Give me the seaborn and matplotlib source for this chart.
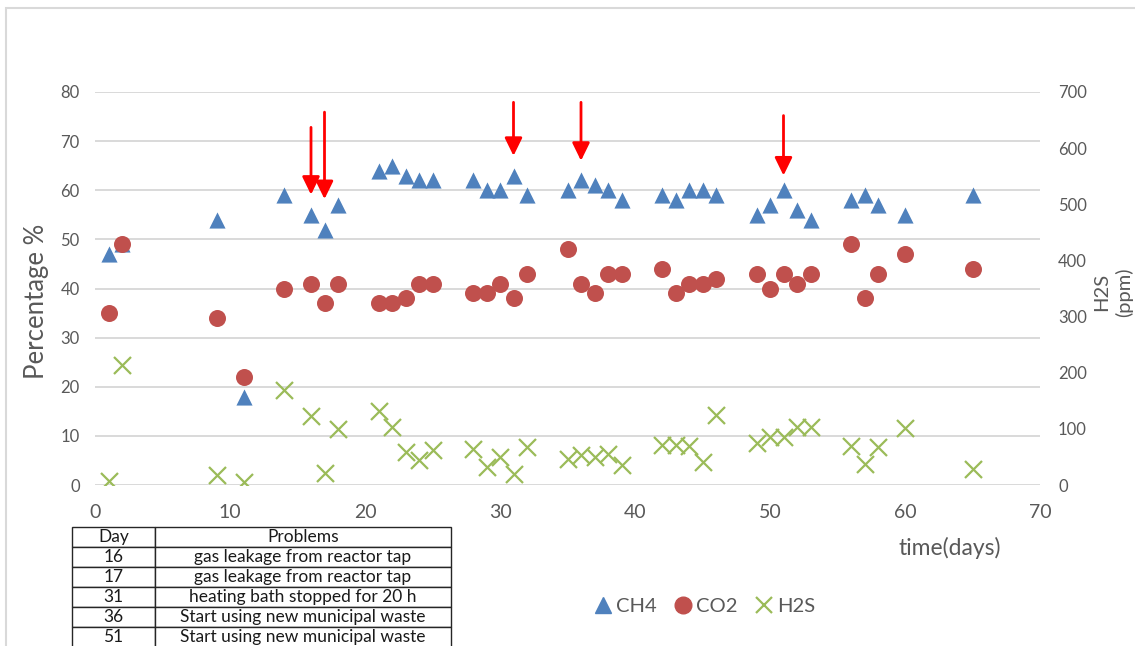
import matplotlib
matplotlib.use("Agg")
import matplotlib.pyplot as plt
from matplotlib.patches import Rectangle
from matplotlib.lines import Line2D
import seaborn as sns
import pandas as pd

# Biogas composition over the digestion period
days = [1, 2, 9, 11, 14, 16, 17, 18, 21, 22, 23, 24, 25, 28, 29, 30, 31, 32,
        35, 36, 37, 38, 39, 42, 43, 44, 45, 46, 49, 50, 51, 52, 53, 56, 57, 58,
        60, 65]
ch4 = [47, 49, 54, 18, 59, 55, 52, 57, 64, 65, 63, 62, 62, 62, 60, 60, 63, 59,
       60, 62, 61, 60, 58, 59, 58, 60, 60, 59, 55, 57, 60, 56, 54, 58, 59, 57,
       55, 59]
co2 = [35, 49, 34, 22, 40, 41, 37, 41, 37, 37, 38, 41, 41, 39, 39, 41, 38, 43,
       48, 41, 39, 43, 43, 44, 39, 41, 41, 42, 43, 40, 43, 41, 43, 49, 38, 43,
       47, 44]
h2s_ppm = [7, 214, 18, 5, 170, 123, 22, 100, 132, 104, 58, 45, 62, 64, 32, 49,
           20, 68, 46, 53, 50, 55, 35, 72, 72, 69, 41, 124, 75, 85, 86, 104, 104,
           70, 38, 68, 101, 29]

# Operational problems flagged with arrows (day, arrow start %, arrow tip %)
event_days = [16, 17, 31, 36, 51]
event_start = [72.8, 75.9, 77.9, 77.9, 75.2]
event_tip = [59.1, 58.2, 67.0, 66.0, 63.0]
event_text = ["gas leakage from reactor tap",
              "gas leakage from reactor tap",
              "heating bath stopped for 20 h",
              "Start using new municipal waste",
              "Start using new municipal waste"]

df = pd.DataFrame({"day": days, "CH4": ch4, "CO2": co2, "H2S": h2s_ppm})

BLUE = "#4F81BD"
RED = "#C0504D"
GREEN = "#9BBB59"
GRID = "#D9D9D9"
TXT = "#595959"

sns.set_theme(style="white")
plt.rcParams["font.family"] = ["Lato", "DejaVu Sans"]

W, H = 1135, 646
fig = plt.figure(figsize=(W / 100, H / 100), dpi=100)
ax = fig.add_axes([95 / W, 1 - 485 / H, (1040 - 95) / W, (485 - 92) / H])
ax2 = ax.twinx()

sns.scatterplot(data=df, x="day", y="CH4", marker="^", color=BLUE, s=135,
                linewidth=0, ax=ax, zorder=3)
sns.scatterplot(data=df, x="day", y="CO2", marker="o", color=RED, s=150,
                linewidth=0, ax=ax, zorder=3)
sns.scatterplot(data=df, x="day", y="H2S", marker="x", color=GREEN, s=150,
                linewidth=1.6, ax=ax2, zorder=3)

ax.set_xlim(0, 70)
ax.set_ylim(0, 80)
ax2.set_ylim(0, 700)
ax.set_xticks(range(0, 71, 10))
ax.set_yticks(range(0, 81, 10))
ax2.set_yticks(range(0, 701, 100))

ax.grid(axis="y", color=GRID, linewidth=1.4)
ax.grid(axis="x", visible=False)
ax2.grid(False)
ax.set_axisbelow(True)
for a in (ax, ax2):
    for sp in a.spines.values():
        sp.set_visible(False)
    a.set_xlabel("")
    a.set_ylabel("")
ax.tick_params(axis="both", length=0, labelsize=12, labelcolor=TXT)
ax.tick_params(axis="y", pad=11)
ax.tick_params(axis="x", pad=14, labelsize=14)
ax2.tick_params(axis="y", length=0, labelsize=12, labelcolor=TXT, pad=13)

# Event arrows
for d, s0, s1 in zip(event_days, event_start, event_tip):
    ax.annotate("", xy=(d, s1), xytext=(d, s0),
                arrowprops=dict(arrowstyle="-|>,head_length=0.9,head_width=0.44",
                                color="red", lw=2, shrinkA=0, shrinkB=0),
                zorder=4)

# Axis titles
fig.text(37 / W, 1 - 301 / H, "Percentage %", rotation=90, ha="center",
         va="center", fontsize=18.5, color=TXT)
fig.text(1113 / W, 1 - 292 / H, "H2S\n(ppm)", rotation=90, ha="center",
         va="center", fontsize=14.5, color=TXT, multialignment="center",
         linespacing=1.35)
fig.text(950 / W, 1 - 548 / H, "time(days)", ha="center", va="center",
         fontsize=16.5, color=TXT)

# Legend
handles = [
    Line2D([], [], ls="", marker="^", color=BLUE, markersize=12),
    Line2D([], [], ls="", marker="o", color=RED, markersize=12),
    Line2D([], [], ls="", marker="x", color=GREEN, markersize=11,
           markeredgewidth=1.6),
]
fig.legend(handles, ["CH4", "CO2", "H2S"], loc="center",
           bbox_to_anchor=(703 / W, 1 - 606 / H), ncol=3, frameon=False,
           fontsize=14.5, handletextpad=0.05, columnspacing=0.7,
           labelcolor=TXT, handlelength=1.2)

# Problems table
tax = fig.add_axes([72 / W, 1 - 647 / H, (451 - 72) / W, (647 - 527) / H])
tax.axis("off")
cells = [[str(d), t] for d, t in zip(event_days, event_text)]
tbl = tax.table(cellText=cells, colLabels=["Day", "Problems"],
                colWidths=[83 / 379, 296 / 379], cellLoc="center",
                bbox=[0, 0, 1, 1])
tbl.auto_set_font_size(False)
for (r, c), cell in tbl.get_celld().items():
    cell.set_fontsize(12.5)
    cell.set_edgecolor("#262626")
    cell.set_linewidth(1.0)
    cell.get_text().set_color("#1a1a1a")

# Chart area frame
fig.patches.append(Rectangle((6 / W, -0.1), 1.2, 1 - 8 / H + 0.1,
                             transform=fig.transFigure, fill=False,
                             edgecolor=GRID, linewidth=1.5))

fig.savefig("out.png", dpi=100)
